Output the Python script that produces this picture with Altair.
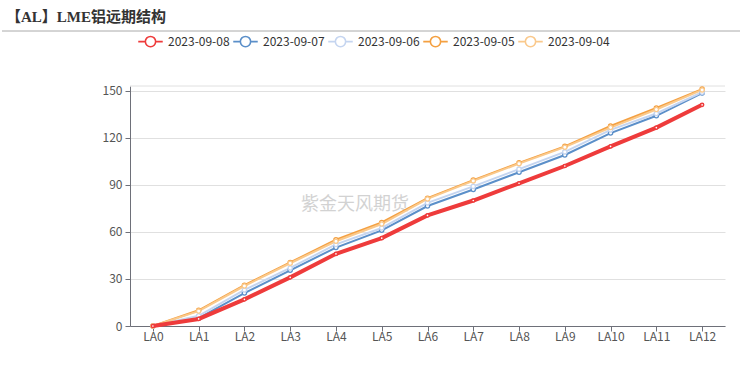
import altair as alt
import pandas as pd

months = ["LA0", "LA1", "LA2", "LA3", "LA4", "LA5", "LA6", "LA7", "LA8", "LA9", "LA10", "LA11", "LA12"]
dates = ["2023-09-08", "2023-09-07", "2023-09-06", "2023-09-05", "2023-09-04"]
colors = ["#EE3B3B", "#5B8FC9", "#C5D5F0", "#F4A041", "#FAC98C"]

s0908 = [0, 4.5, 17, 31, 46, 56, 70.5, 80, 91, 102, 114.5, 126.5, 141]
s0907 = [0, 5, 21, 35.5, 50, 61, 76.5, 87, 98, 109, 123, 134, 148.5]
s0906 = [0, 6.5, 23, 37, 52, 62.5, 78.5, 89, 100, 111, 125, 135.5, 149]
s0905 = [0, 10, 26, 40.5, 55, 66, 81.5, 93, 104, 114.5, 127.5, 139, 151]
s0904 = [0, 9.5, 25.5, 40, 54, 65, 81, 92.5, 103.5, 114, 126.5, 138, 150.5]
y_ticks = [0, 30, 60, 90, 120, 150]
y_max = 153

series = [s0908, s0907, s0906, s0905, s0904]
rows = []
for d, vals in zip(dates, series):
    for m, v in zip(months, vals):
        rows.append({"date": d, "month": m, "value": v})
df = pd.DataFrame(rows)

FONT = "Noto Sans CJK SC"

color_scale = alt.Scale(domain=dates, range=colors)
legend_path = "M-1,0L-0.42,0M0.42,0L1,0M0.42,0A0.42,0.42 0 1,1 -0.42,0A0.42,0.42 0 1,1 0.42,0Z"

x_enc = alt.X("month:N", sort=months, scale=alt.Scale(domain=months),
              axis=alt.Axis(title=None, labelAngle=0, domainColor="#6E7079", tickColor="#6E7079",
                            labelColor="#555", labelFontSize=12, labelFont=FONT, tickSize=5, grid=False, labelPadding=0))
y_enc = alt.Y("value:Q", scale=alt.Scale(domain=[0, y_max], nice=False),
              axis=alt.Axis(title=None, values=y_ticks, domainColor="#6E7079", tickColor="#6E7079", tickSize=5,
                            labelColor="#555", labelFontSize=12, labelFont=FONT, gridColor="#E0E0E0", labelPadding=3))
c_enc = alt.Color("date:N", scale=color_scale,
                  legend=alt.Legend(title=None, orient="none", legendX=7, legendY=-58, direction="horizontal",
                                    columns=5, symbolType=legend_path, symbolSize=600, symbolStrokeWidth=1.6,
                                    symbolFillColor="white", labelFontSize=12, labelColor="#333", labelFont=FONT,
                                    labelOffset=4, columnPadding=0))

others = df[df.date != dates[0]]
red = df[df.date == dates[0]]

lines_o = alt.Chart(others).mark_line(strokeWidth=2).encode(x=x_enc, y=y_enc, color=c_enc)
pts_o = alt.Chart(others).mark_point(filled=True, fill="white", size=18, strokeWidth=1.3, opacity=1).encode(
    x=x_enc, y=y_enc, stroke=alt.Stroke("date:N", scale=color_scale, legend=None))
line_r = alt.Chart(red).mark_line(strokeWidth=4).encode(x=x_enc, y=y_enc, color=c_enc)
pts_r = alt.Chart(red).mark_point(filled=True, fill="white", size=10, strokeWidth=1.5, opacity=1).encode(
    x=x_enc, y=y_enc, stroke=alt.Stroke("date:N", scale=color_scale, legend=None))

top_rule = alt.Chart(pd.DataFrame({"v": [y_max]})).mark_rule(color="#E0E0E0", strokeWidth=1).encode(y=alt.Y("v:Q"))

title = alt.Chart(pd.DataFrame({"t": ["【AL】LME铝远期结构"]})).mark_text(
    align="left", baseline="middle", fontSize=15, fontWeight="bold", font="Liberation Serif, Noto Sans CJK SC", color="#333"
).encode(x=alt.value(-124), y=alt.value(-69), text="t:N")
divider = alt.Chart(pd.DataFrame({"a": [0]})).mark_rule(color="#AAAAAA", strokeWidth=1).encode(
    x=alt.value(-128), x2=alt.value(610), y=alt.value(-55))
watermark = alt.Chart(pd.DataFrame({"t": ["紫金天风期货"]})).mark_text(
    align="center", baseline="middle", fontSize=18, font=FONT, color="#C8C8C8", opacity=0.8
).encode(x=alt.value(225), y=alt.value(119), text="t:N")

chart = alt.layer(top_rule, watermark, lines_o, pts_o, line_r, pts_r, title, divider).properties(
    width=595, height=240,
    padding={"left": 130, "top": 86, "right": 30, "bottom": 50},
    autosize=alt.AutoSizeParams(type="none"),
    background="white",
).configure_view(stroke=None)

chart.save("out.html", embed_options={"renderer": "svg", "actions": False})
